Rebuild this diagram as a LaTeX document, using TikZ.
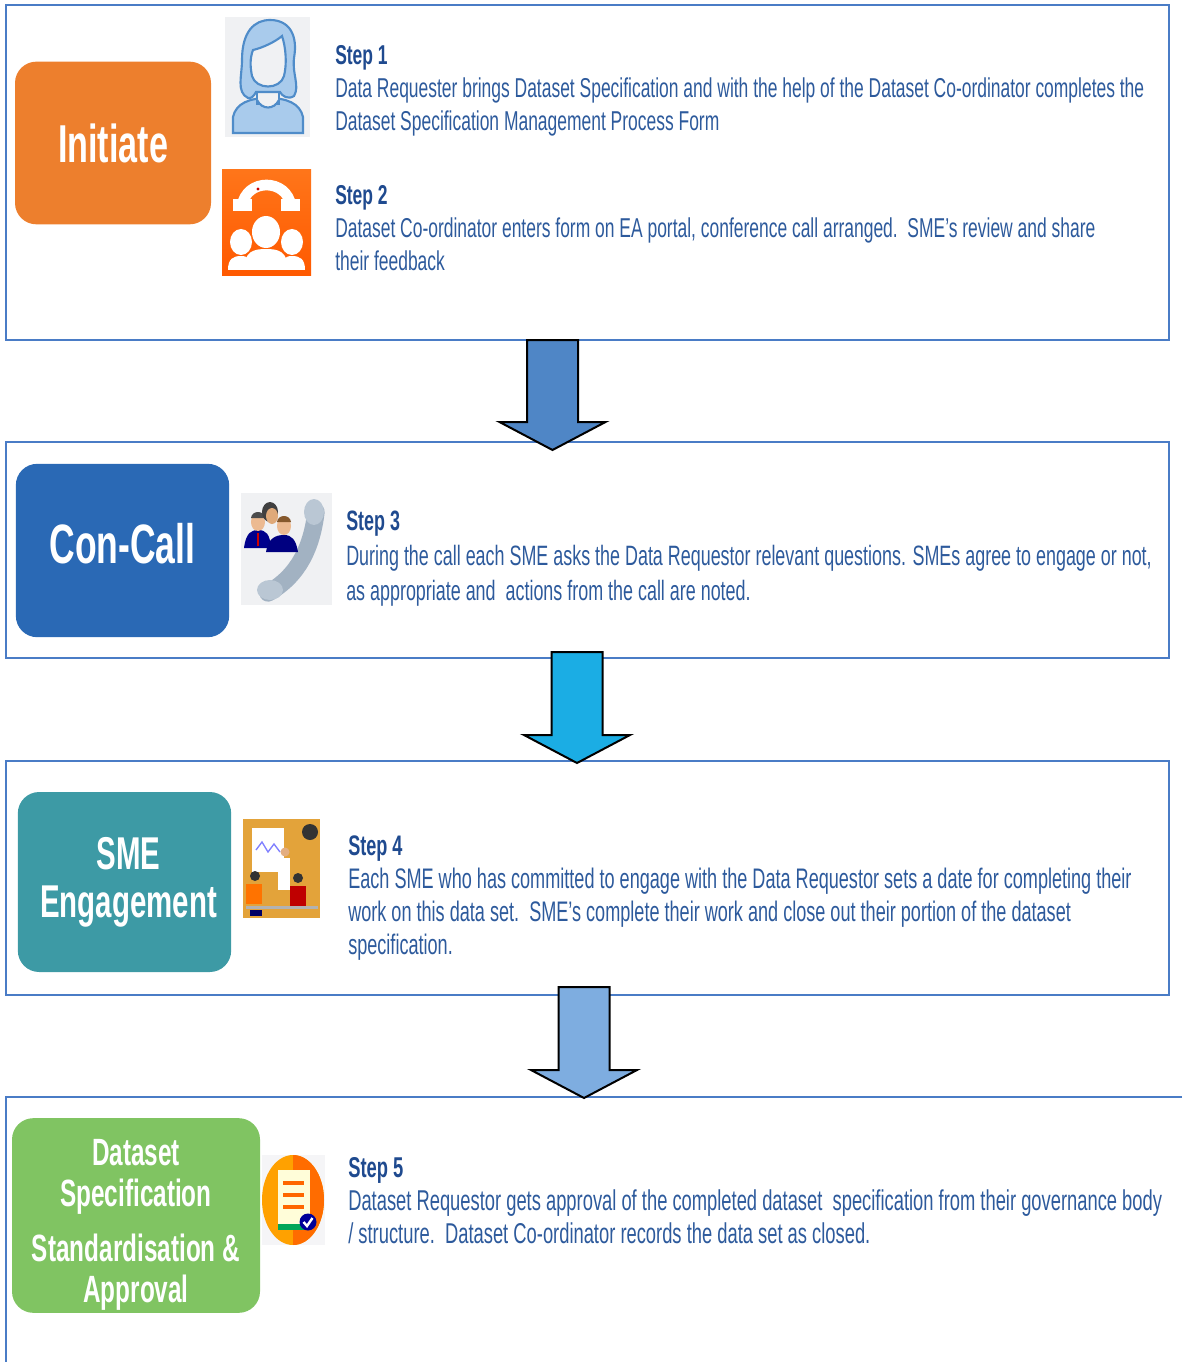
\documentclass[tikz,border=0pt]{standalone}
\usepackage{fontspec}
\setmainfont{Liberation Sans}[FakeStretch=0.64]
\usetikzlibrary{positioning}

\definecolor{framecol}{RGB}{74,124,198}
\definecolor{stepcol}{RGB}{31,74,143}
\definecolor{bodycol}{RGB}{45,90,156}
\definecolor{initcol}{RGB}{237,127,45}
\definecolor{callcol}{RGB}{42,105,181}
\definecolor{smecol}{RGB}{61,154,165}
\definecolor{speccol}{RGB}{128,196,98}
\definecolor{arrowa}{RGB}{79,134,198}
\definecolor{arrowb}{RGB}{27,173,228}
\definecolor{arrowc}{RGB}{126,173,224}
\definecolor{iconbg}{RGB}{240,241,243}
\definecolor{hair}{RGB}{169,203,236}
\definecolor{hairline}{RGB}{79,140,201}
\definecolor{skin}{RGB}{236,186,145}
\definecolor{mustard}{RGB}{227,163,58}
\definecolor{handset}{RGB}{162,178,194}
\definecolor{handsetlt}{RGB}{186,199,212}

\tikzset{
  frame/.style = {draw=framecol, line width=1.5},
  phase/.style = {rounded corners=16, text=white, align=center, inner sep=0pt},
  phaselabel/.style = {text=white, align=center, inner sep=0pt},
  steptext/.style = {anchor=north west, inner sep=0pt, align=left, text=bodycol,
    font=\fontsize{#1}{24.75}\selectfont},
  steptext/.default = 21,
}
\newcommand{\steptitle}[1]{{\bfseries\color{stepcol}Step #1}}
% block arrow: centre x, top, neck, tip, fill
\newcommand{\flowarrow}[5]{%
  \filldraw[draw=black, line width=1.5, fill=#5]
    (#1-25.5,#2) -- (#1+25.5,#2) -- (#1+25.5,#3) -- (#1+53,#3)
    -- (#1,#4) -- (#1-53,#3) -- (#1-25.5,#3) -- cycle;}

\begin{document}
\begin{tikzpicture}[x=0.75pt, y=-0.75pt]
  \useasboundingbox (0,0) rectangle (1182,1362);

  % outer frames
  \draw[frame] (6,5) rectangle (1169,340);
  \draw[frame] (6,442) rectangle (1169,658);
  \draw[frame] (6,761) rectangle (1169,995);
  \draw[frame] (1182,1097) -- (6,1097) -- (6,1362);

  % phase labels
  \node[phase, fill=initcol, minimum width=147, minimum height=122,
    font=\fontsize{40}{44}\selectfont\bfseries] (init) at (113,143) {Initiate};
  \node[phase, fill=callcol, minimum width=160, minimum height=130,
    label={[phaselabel, yshift=5, font=\fontsize{41.6}{45}\selectfont\bfseries]center:Con-Call}]
    (call) at (122.5,550.5) {};
  \node[phase, fill=smecol, minimum width=160, minimum height=135,
    font=\fontsize{34.5}{36}\selectfont\bfseries] (sme) at (124.5,882)
    {\hspace*{6pt}SME\\\hspace*{6pt}Engagement};
  \node[phase, fill=speccol, minimum width=186, minimum height=146,
    label={[phaselabel, yshift=-7, font=\fontsize{28.5}{30.8}\selectfont\bfseries]center:%
      {Dataset\\Specification\\[11pt]Standardisation \&\\Approval}}]
    (spec) at (136,1215.5) {};

  % icon: requester
  \fill[iconbg] (225,17) rectangle (310,137);
  \begin{scope}[draw=hairline, line width=1.6]
    \filldraw[fill=hair] (233,133) -- (233,117) .. controls (236,103) and (250,98) .. (268,98)
      .. controls (286,98) and (300,103) .. (303,117) -- (303,133) -- cycle;
    \filldraw[fill=iconbg] (257,86) rectangle (279,104);
    \filldraw[fill=iconbg] (257,100) .. controls (262,110) and (274,110) .. (279,100);
    \filldraw[fill=hair] (248,98) .. controls (236,92) and (242,76) .. (242,60)
      .. controls (242,32) and (254,20) .. (270,20) .. controls (290,20) and (298,36) .. (294,58)
      .. controls (292,74) and (300,86) .. (294,96) .. controls (288,100) and (282,96) .. (280,92)
      -- (256,92) .. controls (254,96) and (251,99) .. (248,98) -- cycle;
    \filldraw[fill=iconbg] (253,50) .. controls (262,48) and (275,42) .. (282,36)
      .. controls (286,48) and (287,64) .. (284,76) .. controls (280,90) and (256,90) .. (252,76)
      .. controls (250,66) and (250,58) .. (253,50) -- cycle;
  \end{scope}

  % icon: conference call
  \shade[top color=orange!80!red!90!white, bottom color=orange!70!red] (222,170) rectangle (311,276);
  \draw[white, line width=8] (242,206) .. controls (246,178) and (287,178) .. (291,206);
  \fill[white] (233,199) rectangle (252,211);
  \fill[white] (281,199) rectangle (300,211);
  \fill[red!80!black] (258,189) circle (1.6);
  \fill[white] (266,232) ellipse (14 and 16);
  \fill[white] (244,270) .. controls (244,251) and (254,249) .. (266,249)
    .. controls (278,249) and (288,251) .. (288,270) -- cycle;
  \fill[white] (241,242) ellipse (11 and 13);
  \fill[white] (292,242) ellipse (11 and 13);
  \fill[white] (228,270) .. controls (228,259) and (233,256) .. (241,256)
    .. controls (245,256) and (247,257) .. (249,259) -- (247,270) -- cycle;
  \fill[white] (305,270) .. controls (305,259) and (300,256) .. (292,256)
    .. controls (288,256) and (286,257) .. (284,259) -- (286,270) -- cycle;

  % icon: people with handset
  \fill[iconbg] (241,493) rectangle (332,605);
  \draw[handset, line width=13, line cap=round]
    (316,512) .. controls (312,545) and (300,575) .. (268,593);
  \fill[handsetlt] (314,512) ellipse (10 and 13);
  \fill[handsetlt] (270,590) ellipse (13 and 10);
  \fill[blue!55!black] (244,548) .. controls (246,532) and (252,530) .. (258,530)
    .. controls (266,530) and (270,534) .. (271,548) -- cycle;
  \fill[red!80!black] (257,533) rectangle (259,546);
  \fill[skin] (258,522) ellipse (7 and 9);
  \fill[black!70] (251,518) .. controls (252,510) and (264,510) .. (265,518) -- cycle;
  \fill[black!75] (270,512) ellipse (8 and 10);
  \fill[skin!70!brown] (272,516) ellipse (6 and 8);
  \fill[blue!50!black] (266,552) .. controls (268,538) and (276,535) .. (284,535)
    .. controls (292,535) and (296,540) .. (298,552) -- cycle;
  \fill[skin] (284,526) ellipse (7 and 9);
  \fill[brown!70!black] (277,522) .. controls (278,514) and (290,514) .. (291,522) -- cycle;

  % icon: working session
  \fill[mustard] (243,819) rectangle (320,918);
  \fill[white] (252,828) rectangle (284,872);
  \draw[blue!50, line width=1] (256,850) -- (262,842) -- (268,852) -- (274,844) -- (280,852);
  \fill[black!80] (310,832) circle (8);
  \fill[white] (278,858) rectangle (290,890);
  \fill[skin!80!brown] (285,852) circle (4.5);
  \fill[orange!90!red] (246,884) rectangle (262,904);
  \fill[black!80] (255,876) circle (5);
  \fill[red!75!black] (290,886) rectangle (306,906);
  \fill[black!80] (298,878) circle (5);
  \fill[gray!60] (246,906) rectangle (318,909);
  \fill[blue!40!black] (250,910) rectangle (262,916);

  % icon: approved document
  \fill[iconbg!70!white] (262,1155) rectangle (325,1245);
  \fill[orange!60!yellow!90!red] (293,1200) ellipse (31 and 45);
  \begin{scope}
    \clip (293,1150) rectangle (330,1250);
    \fill[orange!85!red] (293,1200) ellipse (31 and 45);
  \end{scope}
  \fill[yellow!15!white] (278,1170) rectangle (310,1228);
  \fill[teal!70!green] (278,1224) rectangle (310,1230);
  \foreach \yy in {1181,1193,1205}
    \fill[orange!80!red] (283,\yy) rectangle (304,\yy+4);
  \fill[blue!60!black] (308,1222) circle (8.5);
  \draw[white, line width=1.8] (303.5,1222) -- (307,1226) -- (312.5,1218);

  % block arrows between phases
  \flowarrow{552.5}{340}{422}{450}{arrowa}
  \flowarrow{577}{652}{735}{763}{arrowb}
  \flowarrow{584}{987}{1070}{1098}{arrowc}

  % step descriptions
  \node[steptext=20.45] (s1) at (335,45) {\steptitle{1}\\
    Data Requester brings Dataset Specification and with the help of the Dataset Co-ordinator completes the\\
    Dataset Specification Management Process Form};
  \node[steptext=20.45] (s2) at (335,185) {\steptitle{2}\\
    Dataset Co-ordinator enters form on EA portal, conference call arranged.~~SME’s review and share\\
    their feedback};
  \node[steptext, font=\fontsize{21}{26}\selectfont] (s3) at (346,511) {\steptitle{3}\\
    During the call each SME asks the Data Requestor relevant questions. SMEs agree to engage or not,\\
    as appropriate and~~actions from the call are noted.};
  \node[steptext=21.2] (s4) at (348,835) {\steptitle{4}\\
    Each SME who has committed to engage with the Data Requestor sets a date for completing their\\
    work on this data set.~~SME’s complete their work and close out their portion of the dataset\\
    specification.};
  \node[steptext=21.5] (s5) at (348,1157) {\steptitle{5}\\
    Dataset Requestor gets approval of the completed dataset~~specification from their governance body\\
    / structure.~~Dataset Co-ordinator records the data set as closed.};
\end{tikzpicture}
\end{document}
